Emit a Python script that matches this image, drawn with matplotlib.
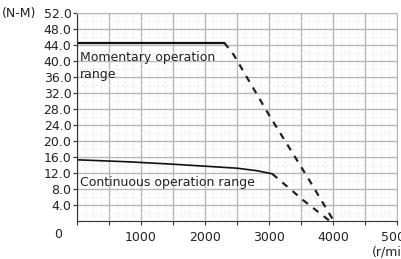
import matplotlib.pyplot as plt
import numpy as np

# torque curve data (rpm, N-M)
mom_solid_x = [0, 2300]
mom_solid_y = [44.6, 44.6]
mom_dash_x = [2300, 2450, 3000, 3600, 4000]
mom_dash_y = [44.6, 41.5, 26.5, 11.0, 0.3]

cont_solid_x = [0, 800, 1500, 2500, 2800, 3050]
cont_solid_y = [15.3, 14.8, 14.2, 13.2, 12.6, 11.8]
cont_dash_x = [3050, 3550, 3950]
cont_dash_y = [11.8, 5.0, 0.0]

yticks = np.arange(4, 53, 4)
xticks = [1000, 2000, 3000, 4000, 5000]

fig = plt.figure(figsize=(4.01, 2.59), dpi=100)
ax = fig.add_axes([77/401, 38/259, 320/401, 208/259])

ax.set_xlim(0, 5000)
ax.set_ylim(0, 52)

# grid
ax.set_xticks(np.arange(0, 5001, 500))
ax.set_xticklabels(['' if v % 1000 or v == 0 else str(v) for v in np.arange(0, 5001, 500)])
ax.set_yticks(yticks)
ax.set_yticklabels(['%.1f' % v for v in yticks])
ax.set_xticks(np.arange(0, 5001, 125), minor=True)
ax.set_yticks(np.arange(0, 53, 2), minor=True)
ax.grid(True, which='major', color='#b8b8b8', lw=1.0)
ax.grid(True, which='minor', color='#ececec', lw=0.8, ls=(0, (2, 2)))
ax.tick_params(which='minor', length=0)
ax.tick_params(which='major', length=3, width=0.8, colors='#333333',
               labelsize=9, labelcolor='#222222', pad=1)
ax.tick_params(axis='x', pad=4)
ax.set_axisbelow(True)

for s in ['left', 'bottom']:
    ax.spines[s].set_color('#333333')
for s in ['top', 'right']:
    ax.spines[s].set_color('#b8b8b8')

ax.plot(mom_solid_x, mom_solid_y, color='#111111', lw=1.6)
ax.plot(mom_dash_x, mom_dash_y, color='#222222', lw=1.6, ls=(0, (3, 3)))
ax.plot(cont_solid_x, cont_solid_y, color='#111111', lw=1.2)
ax.plot(cont_dash_x, cont_dash_y, color='#222222', lw=1.6, ls=(0, (3, 3)))

ax.text(40, 40.8, 'Momentary operation', fontsize=9, color='#222222', va='center')
ax.text(40, 36.6, 'range', fontsize=9, color='#222222', va='center')
ax.text(40, 9.6, 'Continuous operation range', fontsize=9, color='#222222', va='center')

fig.text(58/401, 1 - 235/259, '0', fontsize=9, color='#222222', ha='center', va='center')
fig.text(372/401, 1 - 252/259, '(r/min)', fontsize=9, color='#222222', ha='left', va='center')
fig.text(2/401, 1 - 13/259, '(N-M)', fontsize=9, color='#222222', ha='left', va='center')

fig.savefig('out.png', dpi=100)
